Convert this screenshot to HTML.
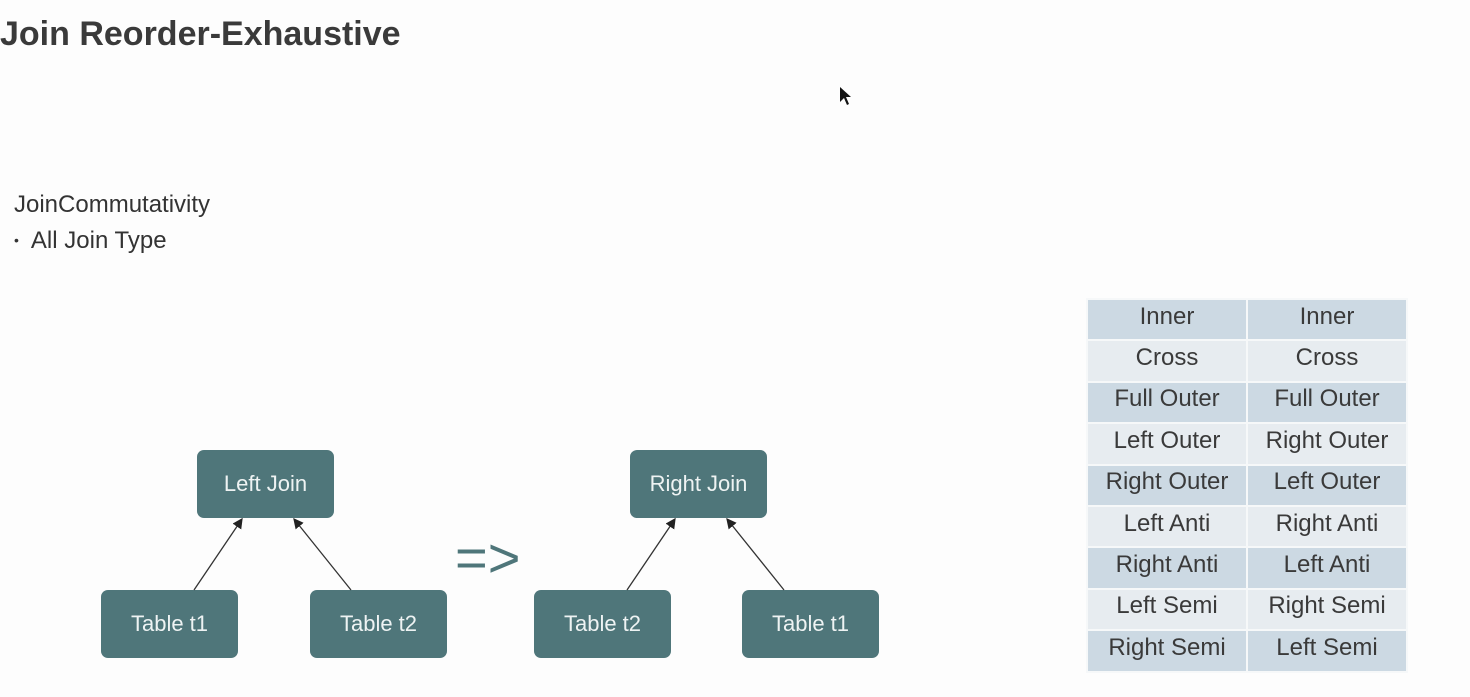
<!DOCTYPE html>
<html><head><style>
body{margin:0;width:1470px;height:697px;background:#fdfdfd;position:relative;overflow:hidden;font-family:"Liberation Sans",sans-serif;}
.t{position:absolute;white-space:nowrap}
.n{position:absolute;width:137px;height:68px;background:#4f767a;border-radius:7px;color:#eef3f3;font-size:22px;display:flex;align-items:center;justify-content:center}
table{position:absolute;left:1086px;top:298px;border-collapse:collapse;table-layout:fixed;width:321px}
td{width:160px;height:39.4px;text-align:center;font-size:24px;color:#3a3a3a;border:2px solid #f6f8f9;padding:0 0 6px 0;box-sizing:border-box}
tr{height:41.4px}
tr:nth-child(odd) td{background:#ccd9e3}
tr:nth-child(even) td{background:#e7ecf0}
</style></head><body>
<div class="t" style="left:0;top:15px;font-size:34px;font-weight:bold;color:#3a3a3a">Join Reorder-Exhaustive</div>
<div class="t" style="left:14px;top:191px;font-size:24px;color:#333">JoinCommutativity</div>
<div class="t" style="left:14px;top:227px;font-size:24px;color:#333"><span style="font-size:14px;position:relative;top:-3px">•</span>&nbsp; All Join Type</div>
<div class="n" style="left:197px;top:450px">Left Join</div>
<div class="n" style="left:101px;top:590px">Table t1</div>
<div class="n" style="left:310px;top:590px">Table t2</div>
<div class="n" style="left:630px;top:450px">Right Join</div>
<div class="n" style="left:534px;top:590px">Table t2</div>
<div class="n" style="left:742px;top:590px">Table t1</div>
<svg style="position:absolute;left:0;top:0" width="1470" height="697">
<defs><marker id="a" markerWidth="8" markerHeight="8" refX="7" refY="4" orient="auto"><path d="M0,0 L8,4 L0,8z" fill="#222"/></marker></defs>
<g stroke="#333" stroke-width="1.3" marker-end="url(#a)">
<line x1="194" y1="590" x2="242" y2="519"/>
<line x1="351" y1="590" x2="294" y2="519"/>
<line x1="627" y1="590" x2="675" y2="519"/>
<line x1="784" y1="590" x2="727" y2="519"/>
</g>
<path d="M840,87 L840,102 L844,98 L847,105 L849,104 L846,97 L851,97 Z" fill="#111"/>
</svg>
<div class="t" style="left:455px;top:525px;font-size:56px;color:#4f767a">=&gt;</div>
<table>
<tr><td>Inner</td><td>Inner</td></tr>
<tr><td>Cross</td><td>Cross</td></tr>
<tr><td>Full Outer</td><td>Full Outer</td></tr>
<tr><td>Left Outer</td><td>Right Outer</td></tr>
<tr><td>Right Outer</td><td>Left Outer</td></tr>
<tr><td>Left Anti</td><td>Right Anti</td></tr>
<tr><td>Right Anti</td><td>Left Anti</td></tr>
<tr><td>Left Semi</td><td>Right Semi</td></tr>
<tr><td>Right Semi</td><td>Left Semi</td></tr>
</table>
</body></html>
